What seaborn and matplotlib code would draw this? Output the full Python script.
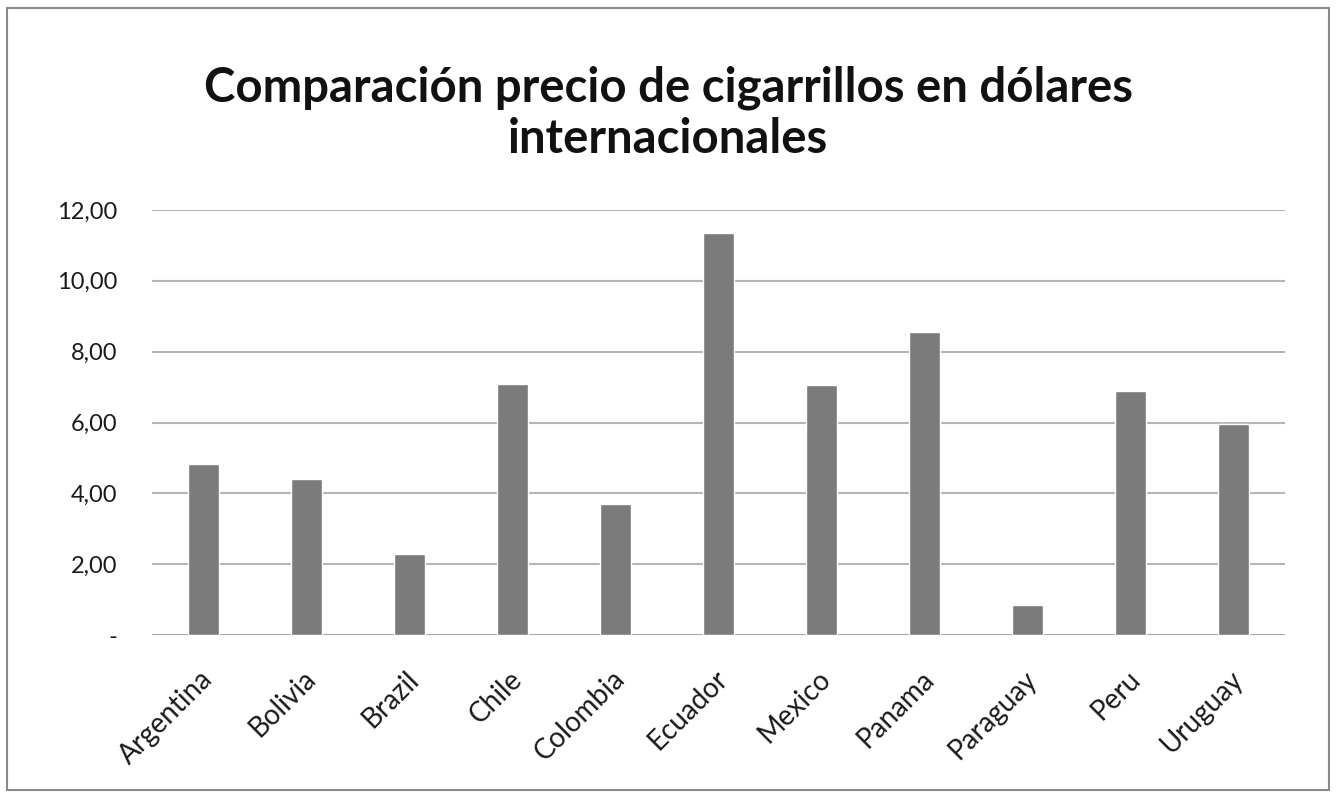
import matplotlib
matplotlib.use("Agg")
import matplotlib.pyplot as plt
import matplotlib.transforms as mtransforms
import numpy as np
import pandas as pd
import seaborn as sns
from matplotlib.patches import Rectangle

countries = ["Argentina", "Bolivia", "Brazil", "Chile", "Colombia", "Ecuador",
             "Mexico", "Panama", "Paraguay", "Peru", "Uruguay"]
prices = [4.82, 4.40, 2.28, 7.10, 3.70, 11.35, 7.05, 8.55, 0.85, 6.90, 5.97]
y_ticks = [0, 2, 4, 6, 8, 10, 12]
y_labels = ["-", "2,00", "4,00", "6,00", "8,00", "10,00", "12,00"]
title = "Comparación precio de cigarrillos en dólares\ninternacionales"

sns.set_theme(style="white")
plt.rcParams["font.family"] = ["Lato", "DejaVu Sans"]

df = pd.DataFrame({"country": countries, "price": prices})

fig = plt.figure(figsize=(13.36, 7.98), dpi=100)
ax = fig.add_axes([0.114, 0.204, 0.848, 0.533])

for t in y_ticks:
    ax.axhline(t, color="#9a9a9a" if t == 0 else "#b5b5b5", lw=2.0 if t == 0 else 1.5, zorder=0)

sns.barplot(data=df, x="country", y="price", color="#7b7b7b", width=0.3,
            saturation=1, ax=ax, zorder=2)

ax.set_ylim(0, 12)
ax.set_xlim(-0.5, len(countries) - 0.5)
ax.set_yticks(y_ticks)
ax.set_yticklabels(y_labels, fontsize=17, color="#1a1a1a")
ax.set_xticks(range(len(countries)))
ax.set_xticklabels(countries, rotation=45, ha="right", rotation_mode="anchor",
                   fontsize=20, color="#1a1a1a")
ax.tick_params(axis="y", length=0, pad=25)
ax.tick_params(axis="x", length=0, pad=22)
shift = mtransforms.ScaledTranslation(-0.04, 0, fig.dpi_scale_trans)
for lbl in ax.get_xticklabels():
    lbl.set_transform(lbl.get_transform() + shift)
ax.set_xlabel("")
ax.set_ylabel("")
for s in ax.spines.values():
    s.set_visible(False)

fig.text(0.5, 0.858, title, ha="center", va="center", fontsize=34,
         fontweight="bold", color="#111111", linespacing=1.2)

fig.patches.append(Rectangle((0.005, 0.01), 0.99, 0.98, transform=fig.transFigure,
                             fill=False, edgecolor="#8a8a8a", lw=1.5))

fig.savefig("out.png", dpi=100)
